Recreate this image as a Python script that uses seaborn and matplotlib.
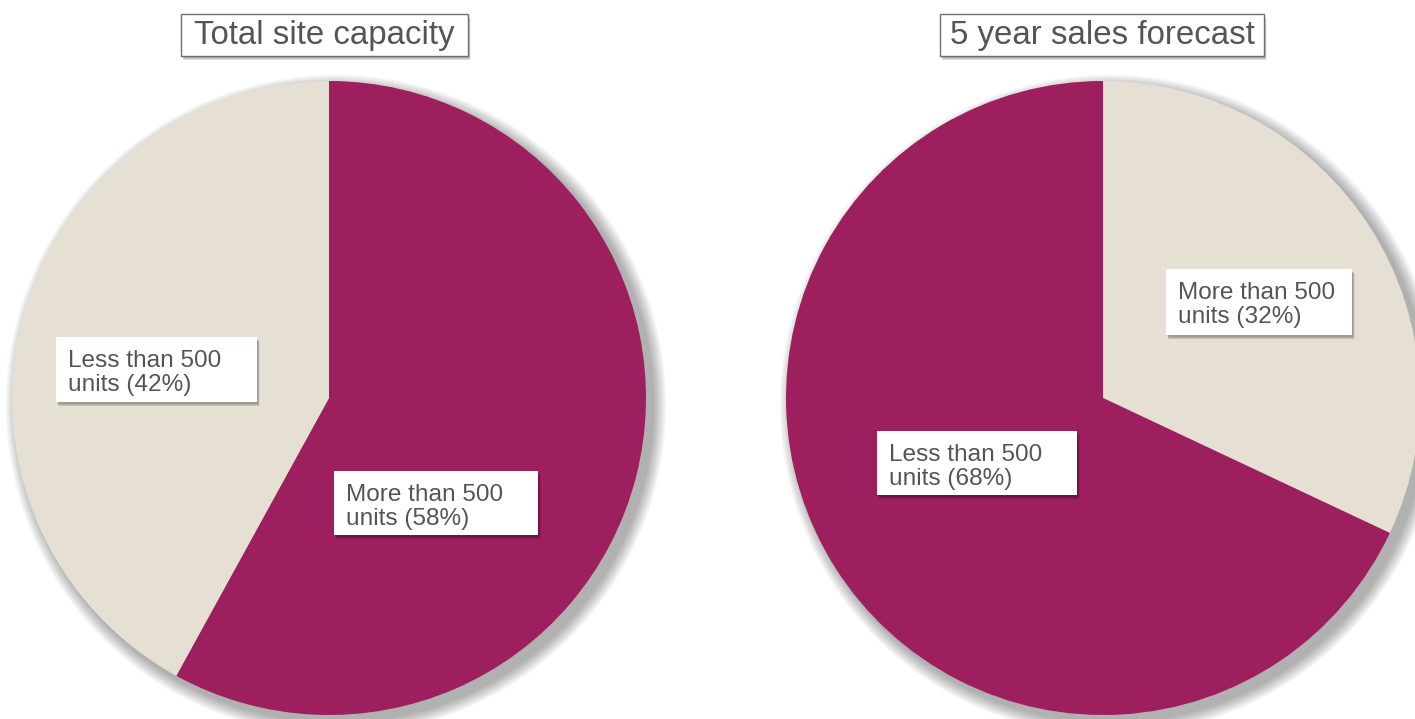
import matplotlib
matplotlib.use("Agg")
import matplotlib.pyplot as plt
from matplotlib.patches import Rectangle, Circle
import seaborn as sns

# ---- data ----
titles = ["Total site capacity", "5 year sales forecast"]
left_categories = ["More than 500", "Less than 500"]
left_values = [58, 42]
right_categories = ["More than 500", "Less than 500"]
right_values = [32, 68]

MAGENTA = "#9E1F5D"
BEIGE = "#E5DFD4"
TEXT = "#555555"

sns.set_theme(style="white")
plt.rcParams["font.family"] = ["Liberation Sans", "DejaVu Sans"]

W, H = 1415, 719
fig = plt.figure(figsize=(W / 100, H / 100), dpi=100)
fig.patch.set_facecolor("white")


def fx(x):
    return x / W


def fy(y):
    return 1 - y / H


def pie_axes(cx, cy, r):
    ax = fig.add_axes([fx(cx - r), fy(cy + r), 2 * r / W, 2 * r / H])
    ax.axis("off")
    return ax


def soft_shadow(ax, dx=0.022, dy=-0.022, n=12):
    for k in range(n):
        rr = 1.0 + 0.0035 * (n - k)
        ax.add_patch(Circle((dx, dy), rr, facecolor="black", alpha=0.028,
                            edgecolor="none", zorder=0, clip_on=False))


def draw_pie(ax, values, colors):
    wedges, _ = ax.pie(values, colors=colors, startangle=90, counterclock=False,
                       radius=1.0, wedgeprops=dict(linewidth=0))
    for w in wedges:
        w.set_zorder(2)
        w.set_clip_on(False)
    soft_shadow(ax)
    ax.set_xlim(-1, 1)
    ax.set_ylim(-1, 1)
    ax.set_aspect("equal", adjustable="box")
    ax.axis("off")


def box(x0, y0, x1, y1, edge=None, shadow=True):
    if shadow:
        for k, a in enumerate([0.10, 0.10, 0.08, 0.06]):
            fig.add_artist(Rectangle((fx(x0 + 1 + k * 0.6), fy(y1 + 2 + k * 0.8)),
                                     (x1 - x0) / W, (y1 - y0) / H,
                                     transform=fig.transFigure, facecolor="black",
                                     alpha=a, edgecolor="none", zorder=5))
    fig.add_artist(Rectangle((fx(x0), fy(y1)), (x1 - x0) / W, (y1 - y0) / H,
                             transform=fig.transFigure, facecolor="white",
                             edgecolor=edge if edge else "none",
                             linewidth=1.0 if edge else 0, zorder=6))


def label(x0, y0, x1, y1, cat, pct, tx):
    box(x0, y0, x1, y1)
    fig.text(fx(tx), fy(y0 + 30), cat, fontsize=17.6, color=TEXT,
             va="baseline", ha="left", zorder=7)
    fig.text(fx(tx), fy(y0 + 54), f"units ({pct}%)", fontsize=17.6, color=TEXT,
             va="baseline", ha="left", zorder=7)


def title(x0, y0, x1, y1, s):
    box(x0, y0, x1, y1, edge="#6f6f6f")
    fig.text(fx((x0 + x1) / 2), fy(y0 + 30), s, fontsize=23.8, color=TEXT,
             va="baseline", ha="center", zorder=7)


# left pie
axL = pie_axes(329, 398, 317)
draw_pie(axL, left_values, [MAGENTA, BEIGE])

# right pie
axR = pie_axes(1103, 398, 317)
draw_pie(axR, right_values, [BEIGE, MAGENTA])

# titles
title(181, 14, 468, 56, titles[0])
title(940, 14, 1264, 56, titles[1])

# labels
label(56, 337, 257, 402, left_categories[1], left_values[1], 68)
label(334, 471, 538, 535, left_categories[0], left_values[0], 346)
label(1166, 269, 1352, 335, right_categories[0], right_values[0], 1178)
label(877, 431, 1077, 495, right_categories[1], right_values[1], 889)

fig.savefig("out.png", dpi=100, facecolor="white")
